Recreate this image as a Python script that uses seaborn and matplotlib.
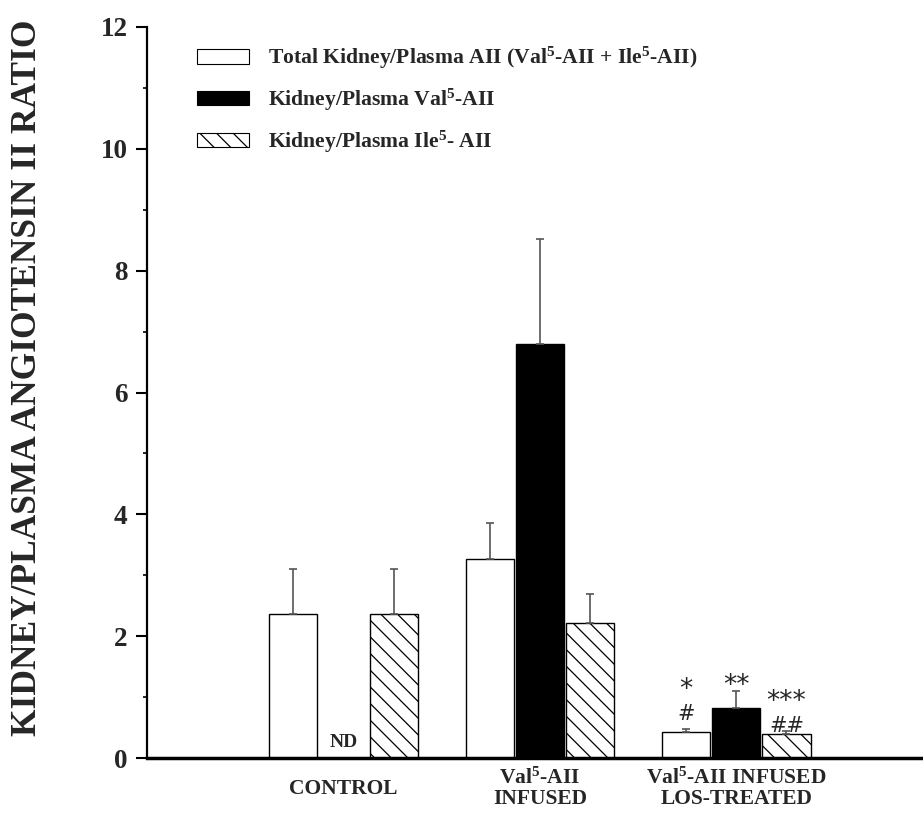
import matplotlib
matplotlib.use("Agg")
import matplotlib.pyplot as plt
import matplotlib.patches as mpatches
from matplotlib.ticker import MultipleLocator
import seaborn as sns
import pandas as pd

# ---- data ----
groups = ["CONTROL", "Val$^5$-AII\nINFUSED", "Val$^5$-AII INFUSED\nLOS-TREATED"]
series = ["Total Kidney/Plasma AII (Val$^5$-AII + Ile$^5$-AII)",
          "Kidney/Plasma Val$^5$-AII",
          "Kidney/Plasma Ile$^5$- AII"]
total_vals = [2.36, 3.27, 0.42]
total_err = [0.74, 0.59, 0.05]
val_vals = [0.0, 6.80, 0.82]
val_err = [0.0, 1.72, 0.28]
ile_vals = [2.37, 2.21, 0.39]
ile_err = [0.73, 0.49, 0.06]
yticks = [0, 2, 4, 6, 8, 10, 12]
sig_upper = ["*", "**", "***"]
sig_lower = ["#", "", "##"]

sns.set_theme(style="white")
plt.rcParams["font.family"] = ["Liberation Serif", "DejaVu Serif"]
plt.rcParams["font.weight"] = "bold"
plt.rcParams["mathtext.fontset"] = "custom"
plt.rcParams["mathtext.rm"] = "Liberation Serif:bold"
plt.rcParams["mathtext.bf"] = "Liberation Serif:bold"
plt.rcParams["mathtext.it"] = "Liberation Serif:bold"
plt.rcParams["mathtext.default"] = "rm"
plt.rcParams["hatch.linewidth"] = 0.9

rows = []
for s, vals, errs in zip(series, [total_vals, val_vals, ile_vals], [total_err, val_err, ile_err]):
    for g, v, e in zip(groups, vals, errs):
        rows.append({"group": g, "series": s, "value": v, "err": e})
df = pd.DataFrame(rows)

fig = plt.figure(figsize=(9.23, 8.15), dpi=100)
ax = fig.add_axes([147 / 923, 57 / 815, 776 / 923, 731 / 815])

sns.barplot(data=df, x="group", y="value", hue="series", order=groups, hue_order=series,
            palette=["white", "black", "white"], width=0.765, gap=0.04,
            errorbar=None, edgecolor="black", linewidth=1.0, ax=ax, legend=False)

hatches = ["", "", "\\\\"]
ncat = len(groups)
bars = ax.patches[: ncat * len(series)]
for i, bar in enumerate(bars):
    bar.set_hatch(hatches[i // ncat])
    bar.set_edgecolor("black")

# error bars (upper only)
for i, bar in enumerate(bars):
    r = df.iloc[i]
    if r["err"] > 0:
        xc = bar.get_x() + bar.get_width() / 2
        ax.errorbar(xc, r["value"], yerr=[[0], [r["err"]]], fmt="none",
                    ecolor="#555555", elinewidth=1.2, capsize=3, capthick=1.2, zorder=1)

# ND label on control Val5 bar
b_nd = bars[1 * ncat + 0]
ax.text(b_nd.get_x() + b_nd.get_width() / 2, 0.12, "ND", ha="center", va="bottom",
        fontsize=14, fontweight="bold")

# significance marks for LOS-treated group (offsets above error bar top)
upper_off = [0.64, 0.08, 0.47]
lower_off = [0.25, 0.0, 0.07]
tops = [total_vals[2] + total_err[2], val_vals[2] + val_err[2], ile_vals[2] + ile_err[2]]
for si in range(3):
    bar = bars[si * ncat + 2]
    xc = bar.get_x() + bar.get_width() / 2
    ax.text(xc, tops[si] + upper_off[si], sig_upper[si], ha="center", va="center",
            fontsize=19, fontweight="normal", family=["DejaVu Sans"])
    if sig_lower[si]:
        ax.text(xc, tops[si] + lower_off[si], sig_lower[si], ha="center", va="center",
                fontsize=15, fontweight="normal", family=["DejaVu Sans"])

ax.set_xlim(-1.0, 2.95)
ax.set_ylim(0, 12)
ax.set_yticks(yticks)
ax.set_yticklabels([str(t) for t in yticks], fontsize=19.5, fontweight="bold")
ax.yaxis.set_minor_locator(MultipleLocator(1))
ax.tick_params(axis="y", which="major", direction="out", length=8, width=1.5, left=True, pad=6, color="black")
ax.tick_params(axis="y", which="minor", direction="out", length=3, width=1.2, left=True, color="black")
ax.tick_params(axis="x", length=0, pad=22)
for lab in ax.get_xticklabels():
    lab.set_fontsize(15.5)
    lab.set_fontweight("bold")
    lab.set_va("center")
    lab.set_linespacing(1.0)

ax.set_xlabel("")
ax.set_ylabel("KIDNEY/PLASMA ANGIOTENSIN II RATIO", fontsize=25.5, fontweight="bold")
ax.yaxis.set_label_coords(-0.133, 0.52)

for side in ["top", "right"]:
    ax.spines[side].set_visible(False)
ax.spines["left"].set_linewidth(1.6)
ax.spines["left"].set_color("black")
ax.spines["bottom"].set_linewidth(2.5)
ax.spines["bottom"].set_color("black")

handles = [mpatches.Patch(facecolor="white", edgecolor="black", linewidth=0.8),
           mpatches.Patch(facecolor="black", edgecolor="black", linewidth=0.8),
           mpatches.Patch(facecolor="white", edgecolor="black", linewidth=0.8, hatch="\\\\")]
fig.legend(handles, series, loc="upper left", bbox_to_anchor=(197 / 923, 1 - 45 / 815),
           frameon=False, handlelength=2.4, handleheight=0.65,
           handletextpad=0.88, labelspacing=0.72, borderpad=0, borderaxespad=0,
           prop={"weight": "bold", "size": 15.6})

fig.savefig("out.png", dpi=100)
